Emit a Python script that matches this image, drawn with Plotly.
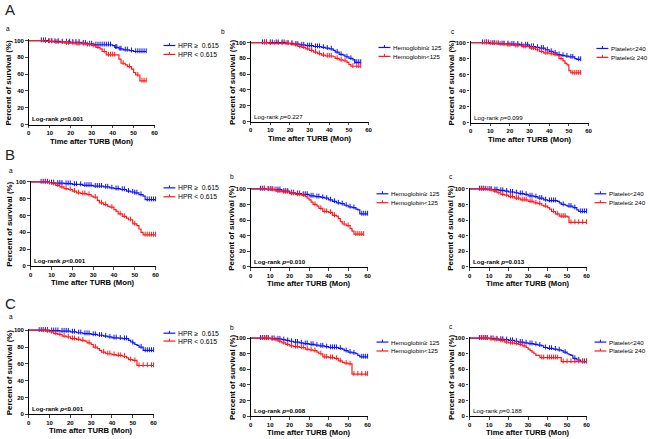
import plotly.graph_objects as go
import numpy as np

W, H = 650, 439
BLUE = "#0a14ff"
RED = "#ff1a1a"
FONT = "Liberation Sans"

# ---------------- data (time in months, survival in %) ----------------
# Row A
AA_HI_T = [0, 9, 15, 20, 25, 28, 31, 40, 41, 43, 45, 48, 50, 56]
AA_HI_S = [100, 99, 98.5, 98, 97, 96, 95, 94, 92, 90, 89, 88, 87, 87]
AA_HI_C = [6, 7, 8, 9.5, 11, 12.5, 14, 16, 18, 19.5, 21, 22.5, 24, 26, 27, 29, 30, 32, 33, 34, 35, 36, 37, 38, 39, 41.5, 42, 43.5, 44, 46, 47, 49, 51, 52, 53, 54, 55, 56]
AA_LO_T = [0, 7, 12, 17, 22, 27, 30, 32, 34, 35, 37, 43, 44, 46, 47, 49, 50, 51, 53, 56]
AA_LO_S = [100, 99, 98, 97, 96, 95, 94, 92, 90, 87, 83, 78, 73, 71, 69, 66, 62, 59, 52, 52]
AA_LO_C = [8, 10, 11, 13, 14, 16, 18, 19, 21, 23, 24, 26, 28, 29, 31, 33, 36, 38, 39, 40, 41, 45, 48, 52, 54, 55, 56]

AB_HI_T = [0, 18, 22, 25, 28, 32, 36, 38, 40, 42, 43, 45, 47, 48, 50, 52, 53, 56]
AB_HI_S = [100, 99, 98, 97, 96, 95, 94, 93, 92, 90, 88, 85, 84, 82, 80, 78, 75, 75]
AB_HI_C = [6, 7, 8, 10, 11, 13, 14, 16, 17, 19, 21, 23, 24, 26, 27, 29, 30, 31, 33, 34, 35, 37, 39, 41, 44, 46, 49, 51, 53, 54, 55, 56]
AB_LO_T = [0, 9, 20, 22, 24, 26, 28, 30, 32, 34, 36, 38, 42, 43, 45, 47, 49, 50, 51, 56]
AB_LO_S = [100, 99, 98, 97, 95, 94, 92, 90, 88, 86, 84, 83, 82, 80, 78, 77, 75, 72, 70, 70]
AB_LO_C = [7, 8, 10, 12, 14, 16, 18, 19, 21, 23, 25, 27, 29, 31, 33, 35, 37, 39, 40, 41, 44, 46, 48, 52, 54, 55, 56]

AC_HI_T = [0, 10, 15, 20, 25, 30, 33, 35, 38, 40, 42, 44, 46, 48, 50, 53, 54, 56]
AC_HI_S = [100, 99, 98.5, 98, 97, 95, 94, 93, 91, 89, 87, 85, 84, 83, 82, 80, 79, 79]
AC_HI_C = [6, 8, 9, 11, 12, 14, 16, 17, 19, 21, 22, 24, 26, 28, 29, 31, 32, 34, 36, 37, 39, 41, 43, 45, 47, 49, 51, 52, 55, 56]
AC_LO_T = [0, 9, 14, 18, 22, 26, 30, 33, 35, 37, 40, 42, 44, 45, 47, 48, 49, 50, 51, 56]
AC_LO_S = [100, 99, 98, 97, 96, 95, 93, 91, 89, 87, 86, 85, 84, 80, 77, 74, 72, 65, 62, 62]
AC_LO_C = [7, 8, 10, 12, 13, 15, 17, 19, 20, 23, 24, 27, 28, 31, 32, 34, 36, 38, 39, 41, 43, 46, 52, 53, 54, 55, 56]

# Row B
BA_HI_T = [0, 9, 12, 16, 20, 25, 30, 35, 38, 40, 43, 46, 48, 50, 52, 54, 55, 60]
BA_HI_S = [100, 99, 98.5, 98, 97, 96, 95, 94, 93, 92, 91, 89, 88, 87, 85, 83, 79, 79]
BA_HI_C = [5, 6, 7, 8, 10, 11, 13, 14, 15, 17, 18, 19, 21, 22, 24, 26, 27, 28, 29, 31, 32, 33, 34, 36, 37, 39, 41, 42, 44, 45, 47, 49, 50, 51, 53, 56, 57, 58, 59, 60]
BA_LO_T = [0, 8, 10, 12, 14, 16, 18, 20, 22, 24, 27, 29, 30, 32, 33, 35, 37, 38, 40, 41, 42, 44, 46, 47, 49, 51, 52, 53, 54, 60]
BA_LO_S = [100, 99, 98, 96, 94, 92, 91, 89, 87, 86, 85, 83, 82, 78, 75, 73, 71, 70, 67, 65, 62, 59, 57, 55, 50, 48, 44, 40, 37, 37]
BA_LO_C = [7, 9, 11, 13, 15, 17, 19, 21, 23, 25, 26, 28, 31, 34, 36, 39, 43, 45, 48, 50, 55, 56, 57, 58, 59, 60]

BB_HI_T = [0, 8, 12, 16, 20, 23, 26, 30, 33, 36, 38, 40, 42, 44, 46, 48, 50, 52, 54, 55, 56, 60]
BB_HI_S = [100, 99.5, 99, 97, 95, 94, 93, 91, 90, 89, 88, 86, 84, 82, 81, 79, 77, 76, 74, 73, 68, 68]
BB_HI_C = [5, 6, 7, 9, 10, 11, 13, 14, 15, 17, 18, 19, 21, 22, 24, 25, 27, 28, 29, 31, 32, 34, 35, 37, 39, 41, 43, 45, 47, 49, 51, 53, 57, 58, 59, 60]
BB_LO_T = [0, 8, 10, 13, 16, 20, 23, 26, 28, 29, 30, 31, 32, 34, 35, 37, 40, 42, 44, 45, 46, 47, 49, 51, 52, 53, 58]
BB_LO_S = [100, 99.5, 99, 97, 96, 94, 93, 92, 90, 88, 86, 83, 80, 78, 75, 71, 70, 66, 65, 62, 58, 55, 53, 49, 46, 42, 42]
BB_LO_C = [6, 7, 9, 11, 12, 14, 15, 17, 18, 19, 21, 22, 24, 25, 27, 33, 36, 38, 39, 41, 43, 48, 50, 54, 55, 56, 57, 58]

BC_HI_T = [0, 9, 12, 15, 18, 20, 23, 25, 28, 30, 33, 35, 38, 40, 45, 46, 47, 49, 50, 53, 55, 56, 60]
BC_HI_S = [100, 99.5, 99, 98, 97, 96, 95, 94, 93, 91, 90, 88, 86, 85, 84, 82, 80, 79, 78, 76, 73, 71, 71]
BC_HI_C = [5, 6, 7, 8, 10, 11, 13, 14, 16, 17, 19, 21, 22, 24, 26, 27, 29, 31, 32, 34, 36, 37, 39, 41, 42, 43, 44, 48, 51, 52, 54, 57, 58, 59, 60]
BC_LO_T = [0, 8, 10, 12, 14, 16, 18, 20, 23, 26, 30, 33, 35, 37, 38, 40, 41, 42, 44, 46, 50, 51, 60]
BC_LO_S = [100, 99.5, 99, 97, 95, 93, 92, 90, 88, 86, 84, 82, 81, 79, 78, 76, 74, 71, 68, 65, 64, 57, 57]
BC_LO_C = [6, 7, 9, 11, 13, 15, 17, 19, 21, 22, 24, 25, 27, 28, 29, 31, 32, 34, 36, 39, 43, 45, 47, 48, 49, 52, 54, 56, 58, 60]

# Row C
CA_HI_T = [0, 10, 15, 20, 23, 26, 30, 33, 36, 38, 40, 43, 45, 48, 49, 50, 51, 52, 53, 55, 60]
CA_HI_S = [100, 99.5, 99, 98, 97, 96, 95, 94, 93, 92, 91, 90.5, 90, 88, 86, 85, 83, 82, 80, 76, 76]
CA_HI_C = [5, 6, 7, 8, 9, 11, 12, 13, 14, 16, 17, 18, 19, 21, 22, 24, 25, 27, 28, 29, 31, 32, 34, 35, 37, 39, 41, 42, 44, 46, 47, 50, 54, 56, 57, 58, 59, 60]
CA_LO_T = [0, 8, 10, 12, 14, 16, 18, 20, 23, 25, 27, 28, 30, 31, 33, 34, 35, 37, 40, 42, 45, 47, 48, 50, 52, 60]
CA_LO_S = [100, 99, 98, 96, 95, 93, 92, 90, 89, 88, 87, 85, 83, 80, 78, 76, 74, 72, 71, 70, 69, 67, 65, 64, 58, 58]
CA_LO_C = [7, 9, 11, 13, 15, 17, 19, 21, 22, 24, 26, 29, 32, 36, 38, 39, 41, 43, 44, 46, 49, 51, 53, 55, 57, 59, 60]

CB_HI_T = [0, 10, 13, 16, 18, 20, 22, 25, 27, 30, 33, 35, 38, 40, 45, 47, 48, 50, 52, 54, 55, 56, 60]
CB_HI_S = [100, 99.5, 99, 98, 97, 96, 95, 94, 93, 92, 91, 90, 89, 88, 87, 86, 84, 82, 81, 80, 78, 76, 76]
CB_HI_C = [5, 6, 7, 8, 9, 11, 12, 14, 15, 17, 19, 21, 23, 24, 26, 28, 29, 31, 32, 34, 36, 37, 39, 41, 42, 43, 44, 46, 49, 51, 53, 57, 58, 59, 60]
CB_LO_T = [0, 10, 12, 14, 16, 18, 20, 22, 25, 28, 30, 32, 34, 35, 37, 40, 43, 45, 47, 48, 50, 52, 60]
CB_LO_S = [100, 99, 98, 96, 94, 92, 90, 89, 88, 86, 85, 84, 82, 80, 76, 75, 74, 71, 69, 68, 67, 54, 54]
CB_LO_C = [6, 7, 8, 9, 11, 13, 15, 17, 19, 21, 23, 24, 26, 27, 29, 31, 33, 36, 38, 39, 41, 42, 44, 46, 49, 51, 53, 55, 57, 59, 60]

CC_HI_T = [0, 10, 13, 15, 18, 20, 23, 25, 28, 30, 33, 35, 37, 38, 40, 43, 45, 47, 48, 50, 51, 52, 53, 55, 57, 60]
CC_HI_S = [100, 99.5, 99, 98.5, 98, 97, 96, 95, 94, 93, 92, 91, 90, 88, 87, 86, 85, 84, 82, 80, 79, 78, 74, 72, 70, 70]
CC_HI_C = [5, 6, 7, 8, 9, 11, 12, 14, 16, 17, 19, 21, 22, 24, 26, 27, 29, 31, 32, 34, 36, 39, 41, 42, 44, 46, 49, 54, 56, 58, 59, 60]
CC_LO_T = [0, 10, 12, 15, 18, 20, 23, 25, 27, 29, 30, 31, 32, 33, 34, 36, 47, 60]
CC_LO_S = [100, 99, 98, 97, 95, 94, 93, 92, 90, 88, 86, 84, 82, 80, 78, 75, 70, 70]
CC_LO_C = [6, 7, 8, 9, 11, 13, 14, 16, 17, 19, 21, 22, 24, 26, 28, 37, 38, 40, 41, 42, 43, 44, 45, 48, 50, 52, 54, 56, 58, 60]

X_TICKS = [0, 10, 20, 30, 40, 50, 60]
Y_TICKS = [0, 20, 40, 60, 80, 100]

LEG_A = ["HPR \u2265  0.615", "HPR &lt; 0.615"]
LEG_B = ["Hemoglobin\u2265 125", "Hemoglobin&lt;125"]
LEG_C = ["Platelet&lt;240", "Platelet\u2265 240"]

X_TITLE = "Time after TURB (Mon)"
Y_TITLE = "Percent of survival (%)"

# ---------------- layout (pixel geometry) ----------------
panels = [
    dict(hi=(AA_HI_T, AA_HI_S, AA_HI_C), lo=(AA_LO_T, AA_LO_S, AA_LO_C), leg=LEG_A, p="&lt;0.001", bold=True,
         geo=(27, 154, 39, 124), lg=(163, 44, 53), sub=("a", 6, 27), tt=(141, 7)),
    dict(hi=(AB_HI_T, AB_HI_S, AB_HI_C), lo=(AB_LO_T, AB_LO_S, AB_LO_C), leg=LEG_B, p="=0.227", bold=False,
         geo=(251, 370, 41, 121), lg=(380, 46, 55), sub=("b", 223, 30), tt=(138, 232)),
    dict(hi=(AC_HI_T, AC_HI_S, AC_HI_C), lo=(AC_LO_T, AC_LO_S, AC_LO_C), leg=LEG_C, p="=0.099", bold=False,
         geo=(473, 592, 41, 122), lg=(600, 47, 56), sub=("c", 455, 30), tt=(139, 454)),
    dict(hi=(BA_HI_T, BA_HI_S, BA_HI_C), lo=(BA_LO_T, BA_LO_S, BA_LO_C), leg=LEG_A, p="&lt;0.001", bold=True,
         geo=(29, 155, 182, 267), lg=(163, 188, 197), sub=("a", 9, 170), tt=(284, 8)),
    dict(hi=(BB_HI_T, BB_HI_S, BB_HI_C), lo=(BB_LO_T, BB_LO_S, BB_LO_C), leg=LEG_B, p="=0.010", bold=True,
         geo=(251, 369, 189, 268), lg=(378, 194, 203), sub=("b", 232, 177), tt=(285, 232)),
    dict(hi=(BC_HI_T, BC_HI_S, BC_HI_C), lo=(BC_LO_T, BC_LO_S, BC_LO_C), leg=LEG_C, p="=0.013", bold=True,
         geo=(472, 590, 189, 268), lg=(598, 194, 203), sub=("c", 453, 177), tt=(285, 453)),
    dict(hi=(CA_HI_T, CA_HI_S, CA_HI_C), lo=(CA_LO_T, CA_LO_S, CA_LO_C), leg=LEG_A, p="&lt;0.001", bold=True,
         geo=(27, 153, 332, 417), lg=(163, 335, 343), sub=("a", 9, 318), tt=(433.5, 7)),
    dict(hi=(CB_HI_T, CB_HI_S, CB_HI_C), lo=(CB_LO_T, CB_LO_S, CB_LO_C), leg=LEG_B, p="=0.008", bold=True,
         geo=(251, 369, 340, 419), lg=(378, 344, 353), sub=("b", 232, 329), tt=(435.2, 232)),
    dict(hi=(CC_HI_T, CC_HI_S, CC_HI_C), lo=(CC_LO_T, CC_LO_S, CC_LO_C), leg=LEG_C, p="=0.188", bold=False,
         geo=(472, 590, 340, 419), lg=(598, 344, 353), sub=("c", 453, 328), tt=(435.2, 453)),
]


def fx(px):
    return px / W


def fy(py):
    return 1 - py / H


def step_at(ts, ss, t):
    i = np.searchsorted(np.array(ts), t, side="right") - 1
    return ss[max(i, 0)]


fig = go.Figure()
layout = dict(width=W, height=H, margin=dict(l=0, r=0, t=0, b=0),
              paper_bgcolor="white", plot_bgcolor="white", showlegend=False,
              font=dict(family=FONT, color="black"))
annotations = []
shapes = []
YTOP = 101.5
TICKFONT = dict(size=6, family=FONT, weight="bold")

for k, pn in enumerate(panels):
    n = "" if k == 0 else str(k + 1)
    xa, ya = "x" + n, "y" + n
    x0, x60, y100, y0 = pn["geo"]
    ytop_px = y100 - (YTOP - 100) * (y0 - y100) / 100.0
    layout["xaxis" + n] = dict(domain=[fx(x0), fx(x60)], anchor=ya, range=[0, 60],
                               tickvals=X_TICKS, ticks="outside", ticklen=2.5, tickwidth=1,
                               showline=True, linecolor="black", linewidth=1.3, showgrid=False,
                               zeroline=False, tickfont=TICKFONT)
    layout["yaxis" + n] = dict(domain=[fy(y0), fy(ytop_px)], anchor=xa, range=[0, YTOP],
                               tickvals=Y_TICKS, ticks="outside", ticklen=2.5, tickwidth=1,
                               showline=True, linecolor="black", linewidth=1.3, showgrid=False,
                               zeroline=False, tickfont=TICKFONT)
    for key, col in (("hi", BLUE), ("lo", RED)):
        ts, ss, cs = pn[key]
        fig.add_trace(go.Scatter(x=ts, y=ss, xaxis=xa, yaxis=ya, mode="lines",
                                 line=dict(color=col, width=1.2, shape="hv"), hoverinfo="skip"))
        cy = [step_at(ts, ss, c) + 0.8 for c in cs]
        fig.add_trace(go.Scatter(x=cs, y=cy, xaxis=xa, yaxis=ya, mode="markers", cliponaxis=False,
                                 marker=dict(symbol="line-ns", size=3.5, color=col,
                                             line=dict(color=col, width=1)), hoverinfo="skip"))
    # axis titles
    ty, tx = pn["tt"]
    annotations.append(dict(text="<b>" + X_TITLE + "</b>", xref="paper", yref="paper",
                            x=fx((x0 + x60) / 2.0), y=fy(ty), xanchor="center", yanchor="middle",
                            showarrow=False, font=dict(size=7.7, family=FONT)))
    annotations.append(dict(text="<b>" + Y_TITLE + "</b>", xref="paper", yref="paper", textangle=-90,
                            x=fx(tx), y=fy((y100 + y0) / 2.0), xanchor="center", yanchor="middle",
                            showarrow=False, font=dict(size=7.9, family=FONT)))
    # log-rank text
    txt = "Log-rank <i>p</i>" + pn["p"]
    if pn["bold"]:
        txt = "<b>" + txt + "</b>"
    annotations.append(dict(text=txt, xref=xa, yref=ya, x=0.6, y=7, xanchor="left", yanchor="middle",
                            showarrow=False, font=dict(size=6.2, family=FONT)))
    # legend
    lx, ly1, ly2 = pn["lg"]
    for lab, col, ly in ((pn["leg"][0], BLUE, ly1), (pn["leg"][1], RED, ly2)):
        shapes.append(dict(type="line", xref="paper", yref="paper", x0=fx(lx), x1=fx(lx + 12),
                           y0=fy(ly), y1=fy(ly), line=dict(color=col, width=1.2)))
        shapes.append(dict(type="line", xref="paper", yref="paper", x0=fx(lx + 6), x1=fx(lx + 6),
                           y0=fy(ly - 2.5), y1=fy(ly), line=dict(color=col, width=1)))
        annotations.append(dict(text=lab, xref="paper", yref="paper", x=fx(lx + 13), y=fy(ly),
                                xanchor="left", yanchor="middle", showarrow=False,
                                font=dict(size=6.8 if pn["leg"] is LEG_A else 6.2, family=FONT)))
    # sub letter
    s, sx, sy = pn["sub"]
    annotations.append(dict(text=s, xref="paper", yref="paper", x=fx(sx), y=fy(sy), xanchor="center",
                            yanchor="middle", showarrow=False, font=dict(size=6.5, family=FONT)))

for lab, py in (("A", 8), ("B", 154), ("C", 305)):
    annotations.append(dict(text=lab, xref="paper", yref="paper", x=fx(1), y=fy(py), xanchor="left",
                            yanchor="middle", showarrow=False, font=dict(size=15, family=FONT, color="#222")))

layout["annotations"] = annotations
layout["shapes"] = shapes
fig.update_layout(**layout)
fig.write_html("out.html", config={"displayModeBar": False},
               post_script="document.body.style.margin='0';document.body.style.overflow='hidden';")
